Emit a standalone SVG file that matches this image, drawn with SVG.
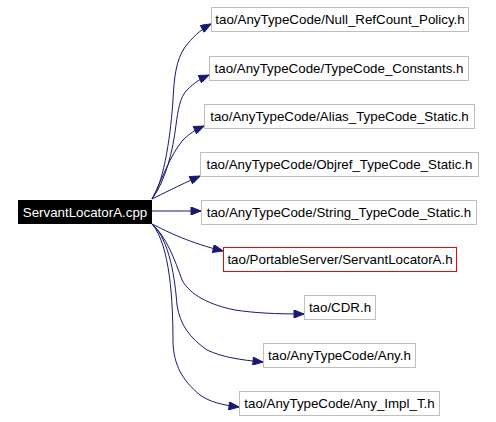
<svg xmlns="http://www.w3.org/2000/svg" width="496" height="422" viewBox="0 0 496 422">
<defs>
<style>
.n rect{fill:#fff;stroke:#bfbfbf;stroke-width:1}
.n text{font-family:"Liberation Sans",Arial,sans-serif;font-size:13.33px;fill:#000;text-anchor:middle}
#src rect{fill:#000;stroke:#000}
#src text{fill:#fff}
#n6 rect{stroke:#ff0000}
.e path{fill:none;stroke:#191970;stroke-width:1}
</style>
<marker id="ah" viewBox="0 0 10 8" refX="10" refY="4" markerWidth="12" markerHeight="8" markerUnits="userSpaceOnUse" orient="auto">
<path d="M0,0 L10,4 L0,8 Z" fill="#191970" stroke="#191970"/>
</marker>
</defs>
<rect width="496" height="422" fill="#fff"/>
<g id="edges" class="e">
<path marker-end="url(#ah)" d="M152,199 C165,180 171,130 173,100 C174,78 176,60 185,47 C192,38 200,30 211,24"/>
<path marker-end="url(#ah)" d="M152,199 C166,180 173,150 176,125 C178,110 180,97 187,90 C194,83 200,79 209,75"/>
<path marker-end="url(#ah)" d="M152,199 C162,180 170,155 183,140 C189,134 195,130 204,126"/>
<path marker-end="url(#ah)" d="M152,199 C162,194 178,186 200,176"/>
<path marker-end="url(#ah)" d="M151,211 L201,211"/>
<path marker-end="url(#ah)" d="M152,224 C168,232 190,243 223,251"/>
<path marker-end="url(#ah)" d="M152,224 C166,236 175,260 182,280 C190,295 210,305 235,310 C255,313 275,314 304,314"/>
<path marker-end="url(#ah)" d="M152,224 C170,240 175,280 177,305 C180,325 190,338 207,350 C222,357 240,360 263,362"/>
<path marker-end="url(#ah)" d="M152,224 C170,245 173,300 173,343 C174,365 182,380 200,395 C210,402 222,405 239,407"/>
</g>
<g id="src" class="n"><rect x="18.5" y="200.5" width="133" height="23"/><text x="85" y="216.5">ServantLocatorA.cpp</text></g>
<g id="n1" class="n"><rect x="211.5" y="7.5" width="257" height="24"/><text x="340" y="24">tao/AnyTypeCode/Null_RefCount_Policy.h</text></g>
<g id="n2" class="n"><rect x="209.5" y="56.5" width="259" height="24"/><text x="339" y="73">tao/AnyTypeCode/TypeCode_Constants.h</text></g>
<g id="n3" class="n"><rect x="204.5" y="104.5" width="270" height="24"/><text x="339.5" y="121">tao/AnyTypeCode/Alias_TypeCode_Static.h</text></g>
<g id="n4" class="n"><rect x="200.5" y="152.5" width="278" height="24"/><text x="339.5" y="169">tao/AnyTypeCode/Objref_TypeCode_Static.h</text></g>
<g id="n5" class="n"><rect x="201.5" y="200.5" width="275" height="24"/><text x="339" y="217">tao/AnyTypeCode/String_TypeCode_Static.h</text></g>
<g id="n6" class="n"><rect x="223.5" y="247.5" width="233" height="24"/><text x="340" y="264">tao/PortableServer/ServantLocatorA.h</text></g>
<g id="n7" class="n"><rect x="304.5" y="295.5" width="71" height="24"/><text x="340" y="312">tao/CDR.h</text></g>
<g id="n8" class="n"><rect x="263.5" y="343.5" width="152" height="24"/><text x="339.5" y="360">tao/AnyTypeCode/Any.h</text></g>
<g id="n9" class="n"><rect x="239.5" y="391.5" width="200" height="24"/><text x="339.5" y="408">tao/AnyTypeCode/Any_Impl_T.h</text></g>
</svg>
